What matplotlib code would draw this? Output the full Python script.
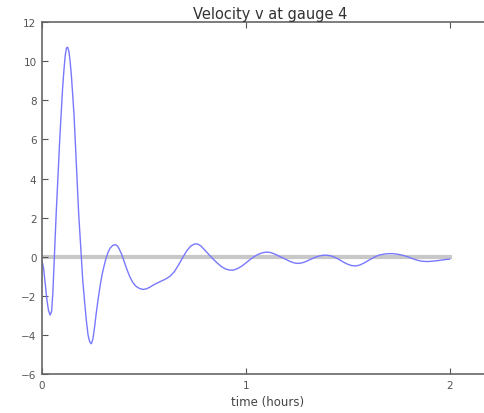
import matplotlib
matplotlib.use("Agg")
import matplotlib.pyplot as plt

# time (hours) and velocity
t = [0.000, 0.008, 0.016, 0.024, 0.032, 0.040, 0.047, 0.053, 0.059,
     0.065, 0.070, 0.076, 0.082, 0.088, 0.095, 0.101, 0.108, 0.114, 0.120,
     0.126, 0.132, 0.138, 0.144, 0.150, 0.157, 0.163, 0.168, 0.174, 0.180,
     0.187, 0.193, 0.200, 0.209, 0.218, 0.226, 0.234, 0.242, 0.250, 0.258,
     0.266, 0.275, 0.285, 0.295, 0.305, 0.315, 0.325, 0.335, 0.347, 0.358,
     0.368, 0.378, 0.390, 0.402, 0.415, 0.430, 0.445, 0.460, 0.478, 0.495,
     0.513, 0.530, 0.550, 0.570, 0.590, 0.610, 0.630, 0.650, 0.670, 0.690,
     0.710, 0.730, 0.750, 0.765, 0.780, 0.800, 0.820, 0.840, 0.860, 0.880,
     0.900, 0.920, 0.940, 0.960, 0.980, 1.000, 1.020, 1.040, 1.060, 1.080,
     1.100, 1.120, 1.140, 1.160, 1.180, 1.200, 1.220, 1.240, 1.260, 1.280,
     1.300, 1.320, 1.340, 1.360, 1.380, 1.400, 1.420, 1.440, 1.460, 1.480,
     1.500, 1.520, 1.540, 1.560, 1.580, 1.600, 1.620, 1.640, 1.660, 1.680,
     1.700, 1.720, 1.740, 1.760, 1.780, 1.800, 1.820, 1.840, 1.860, 1.880,
     1.900, 1.920, 1.940, 1.960, 1.980, 2.000]
v = [-0.20, -0.60, -1.40, -2.20, -2.75, -2.98, -2.80, -1.90, -0.40,
     1.10, 2.30, 3.60, 4.90, 6.20, 7.50, 8.60, 9.60, 10.30, 10.68,
     10.72, 10.50, 10.00, 9.30, 8.40, 7.30, 6.00, 4.80, 3.50, 2.20,
     1.00, -0.10, -1.20, -2.30, -3.30, -4.00, -4.35, -4.45, -4.20, -3.60,
     -2.90, -2.20, -1.50, -0.90, -0.45, -0.05, 0.25, 0.45, 0.58, 0.62,
     0.58, 0.42, 0.15, -0.20, -0.60, -1.00, -1.30, -1.50, -1.62, -1.67,
     -1.64, -1.55, -1.42, -1.32, -1.22, -1.12, -0.98, -0.75, -0.42, -0.05,
     0.30, 0.55, 0.66, 0.65, 0.55, 0.33, 0.10, -0.12, -0.32, -0.50,
     -0.62, -0.68, -0.68, -0.60, -0.48, -0.32, -0.15, 0.00, 0.12, 0.20,
     0.24, 0.22, 0.15, 0.05, -0.05, -0.15, -0.25, -0.32, -0.34, -0.30,
     -0.22, -0.12, -0.03, 0.04, 0.08, 0.08, 0.04, -0.04, -0.15, -0.28,
     -0.38, -0.45, -0.47, -0.42, -0.32, -0.20, -0.08, 0.03, 0.10, 0.14,
     0.16, 0.16, 0.14, 0.10, 0.05, -0.02, -0.10, -0.17, -0.22, -0.24,
     -0.24, -0.22, -0.20, -0.17, -0.14, -0.12]
zero_t = [0.0, 2.0]
zero_v = [0.0, 0.0]

xticks = [0, 1, 2]
yticks = [-6, -4, -2, 0, 2, 4, 6, 8, 10, 12]

fig = plt.figure(figsize=(4.85, 4.14), dpi=100)
fig.patch.set_facecolor("white")
ax = fig.add_axes([0.0866, 0.094, 1.0, 0.850])

ax.plot(zero_t, zero_v, color="#c8c8c8", lw=3, zorder=1)
ax.plot(t, v, color="#7878ff", lw=1.0, zorder=2)

ax.set_xlim(0, 2.38)
ax.set_ylim(-6, 12)
ax.set_xticks(xticks)
ax.set_yticks(yticks)
ax.tick_params(direction="in", labelsize=7.5, colors="#555555", length=4,
               top=True, right=False, pad=4)
for s in ax.spines.values():
    s.set_color("#666666")
    s.set_linewidth(1.2)

ax.set_title("Velocity v at gauge 4", fontsize=10.5, color="#333333", pad=3,
             x=0.47)
ax.set_xlabel("time (hours)", fontsize=8.5, color="#444444")
ax.xaxis.set_label_coords(0.466, -0.06)

fig.savefig("out.png", dpi=100, facecolor="white")
